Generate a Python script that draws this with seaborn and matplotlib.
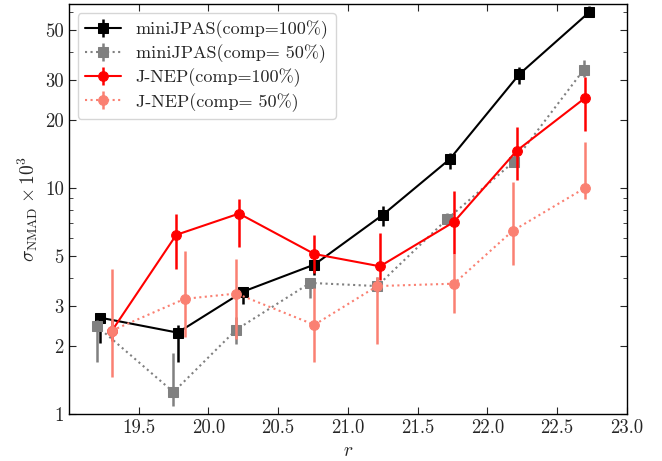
import numpy as np
import pandas as pd
import matplotlib
matplotlib.use("Agg")
import matplotlib.pyplot as plt
import seaborn as sns
from matplotlib.ticker import FixedLocator, FixedFormatter, LogLocator, NullFormatter
from matplotlib.legend_handler import HandlerTuple

# ---- data ----
labels = ["miniJPAS(comp=100%)", "miniJPAS(comp= 50%)",
          "J-NEP(comp=100%)", "J-NEP(comp= 50%)"]

mj100_x = [19.22, 19.78, 20.25, 20.76, 21.25, 21.73, 22.23, 22.73]
mj100_y = [2.67, 2.29, 3.48, 4.58, 7.6, 13.4, 31.9, 59.9]
mj100_lo = [2.07, 1.70, 3.06, 4.13, 6.8, 12.1, 28.8, 57.1]
mj100_hi = [2.74, 2.48, 3.66, 4.80, 8.33, 14.3, 34.4, 63.6]

mj50_x = [19.20, 19.75, 20.20, 20.73, 21.21, 21.71, 22.19, 22.69]
mj50_y = [2.45, 1.25, 2.36, 3.80, 3.68, 7.27, 13.07, 33.3]
mj50_lo = [1.69, 1.08, 2.04, 3.25, 3.45, 6.85, 12.4, 31.0]
mj50_hi = [2.60, 1.87, 2.69, 3.98, 4.05, 7.75, 14.3, 36.8]

jn100_x = [19.31, 19.77, 20.22, 20.76, 21.23, 21.76, 22.21, 22.70]
jn100_y = [2.34, 6.2, 7.7, 5.1, 4.5, 7.07, 14.6, 25.0]
jn100_lo = [2.10, 4.37, 5.47, 4.2, 3.9, 5.1, 10.8, 17.9]
jn100_hi = [2.60, 7.7, 8.95, 6.2, 6.3, 9.7, 18.6, 31.0]

jn50_x = [19.31, 19.83, 20.20, 20.76, 21.21, 21.76, 22.18, 22.70]
jn50_y = [2.34, 3.23, 3.41, 2.48, 3.68, 3.77, 6.45, 10.0]
jn50_lo = [1.46, 2.18, 2.14, 1.69, 2.05, 2.8, 4.56, 8.9]
jn50_hi = [4.37, 5.28, 4.87, 3.6, 4.05, 5.1, 10.6, 15.9]

yticks = [1, 2, 3, 5, 10, 20, 30, 50]
ytick_labels = ["1", "2", "3", "5", "10", "20", "30", "50"]
xticks = [19.5, 20.0, 20.5, 21.0, 21.5, 22.0, 22.5, 23.0]

# ---- style ----
sns.set_style("ticks")
plt.rcParams["font.family"] = ["serif"]
plt.rcParams["font.serif"] = ["cmr10", "DejaVu Serif"]
plt.rcParams["mathtext.fontset"] = "cm"
plt.rcParams["axes.formatter.use_mathtext"] = True
plt.rcParams["axes.unicode_minus"] = False

fig = plt.figure(figsize=(6.62, 4.61), dpi=100)
ax = fig.add_axes([0.104, 0.102, 0.843, 0.889])

series = [
    (mj100_x, mj100_y, mj100_lo, mj100_hi, "black", "s", "-"),
    (mj50_x, mj50_y, mj50_lo, mj50_hi, "grey", "s", ":"),
    (jn100_x, jn100_y, jn100_lo, jn100_hi, "red", "o", "-"),
    (jn50_x, jn50_y, jn50_lo, jn50_hi, "salmon", "o", ":"),
]

handles = []
for i, (x, y, lo, hi, c, m, ls) in enumerate(series):
    y = np.array(y); lo = np.array(lo); hi = np.array(hi)
    eb = ax.errorbar(x, y, yerr=[y - lo, hi - y], fmt="none", ecolor=c,
                     elinewidth=1.8, capsize=0, zorder=2 + i)
    df = pd.DataFrame({"r": x, "s": y})
    sns.lineplot(data=df, x="r", y="s", ax=ax, color=c, linestyle=ls,
                 linewidth=1.5, marker=m, markersize=7, markeredgecolor=c,
                 markerfacecolor=c, legend=False, zorder=2 + i)
    line = ax.lines[-1]
    handles.append((eb, line))

ax.set_yscale("log")
ax.set_xlim(19.0, 23.0)
ax.set_ylim(1, 65)
ax.set_xticks(xticks)
ax.set_xticklabels([f"{t:.1f}" for t in xticks])
ax.yaxis.set_major_locator(FixedLocator(yticks))
ax.yaxis.set_major_formatter(FixedFormatter(ytick_labels))
ax.yaxis.set_minor_locator(LogLocator(base=10, subs=np.arange(1, 10)))
ax.yaxis.set_minor_formatter(NullFormatter())
ax.tick_params(which="both", direction="in", top=True, right=True, labelsize=13.5)
ax.tick_params(which="major", length=5)
ax.tick_params(which="minor", length=3)
for s in ax.spines.values():
    s.set_color("black")
    s.set_linewidth(1.0)

ax.set_xlabel(r"$r$", fontsize=14)
ax.set_ylabel(r"$\sigma_{\rm NMAD}\times10^{3}$", fontsize=14)

ax.legend(handles, labels, loc="upper left", fontsize=13,
          handler_map={tuple: HandlerTuple(ndivide=1, pad=0)},
          handlelength=2.0, borderaxespad=0.5, labelspacing=0.3,
          frameon=True, fancybox=True, edgecolor="0.8", framealpha=0.8)

fig.savefig("out.png", dpi=100)
